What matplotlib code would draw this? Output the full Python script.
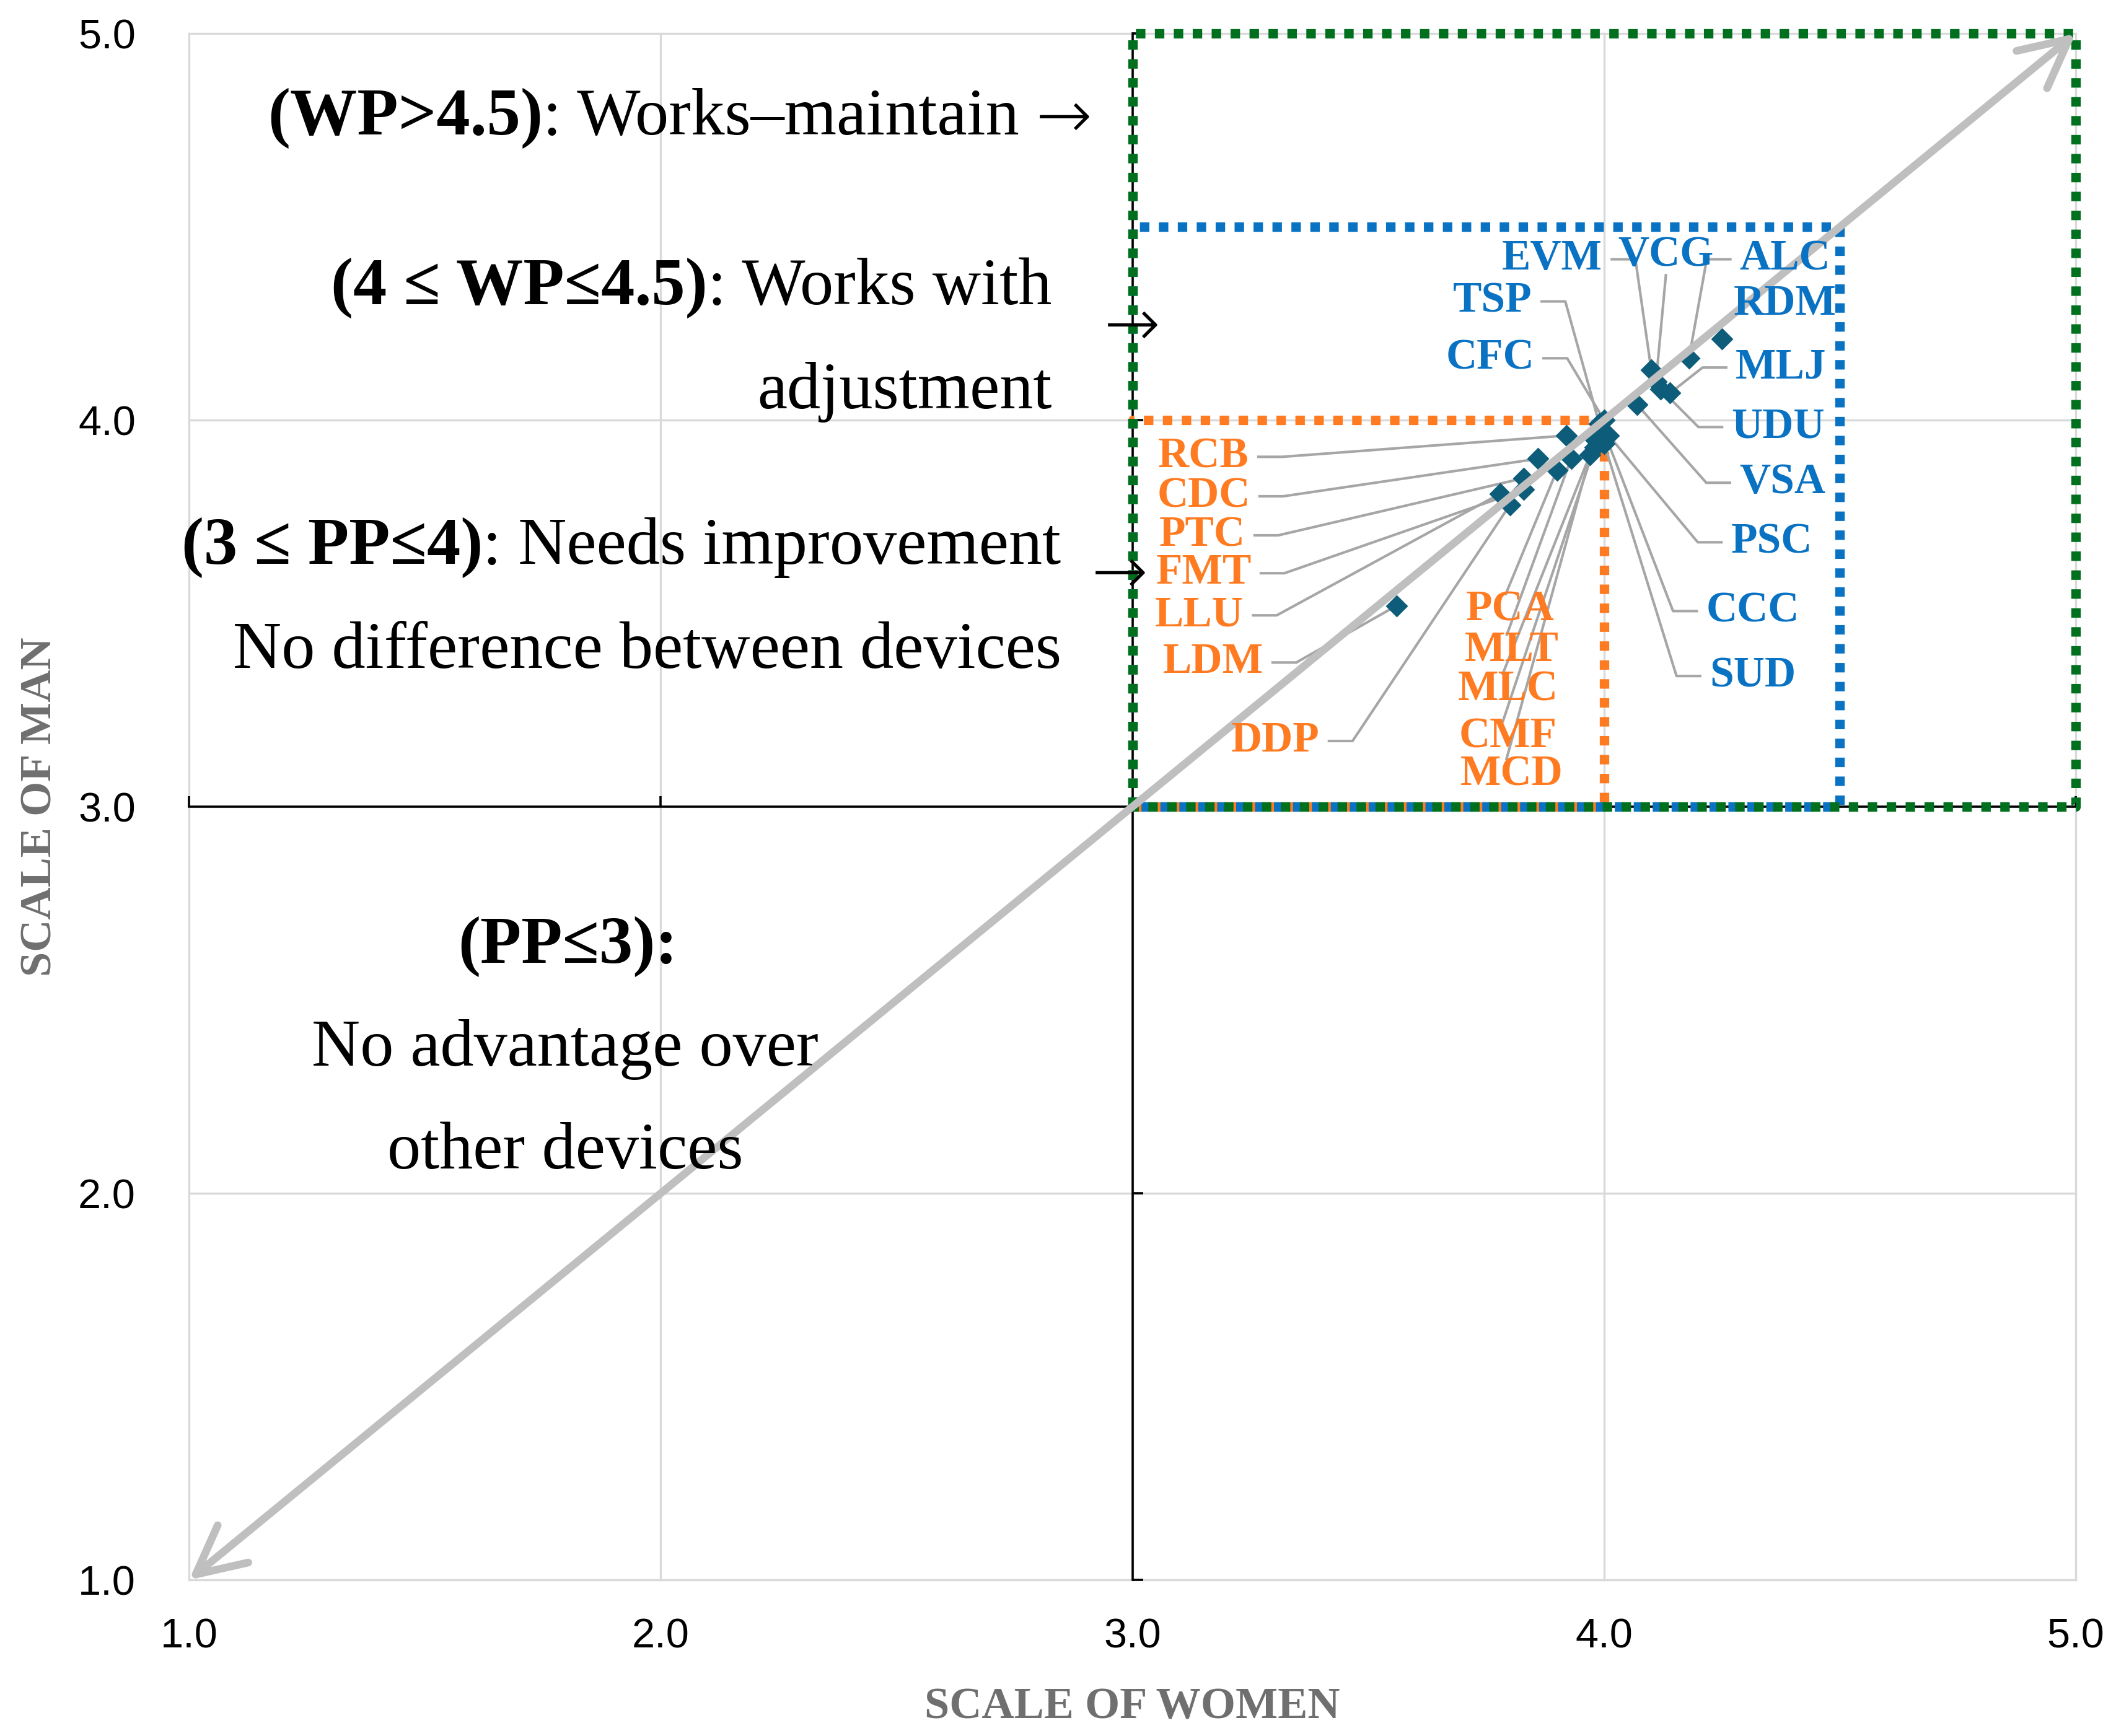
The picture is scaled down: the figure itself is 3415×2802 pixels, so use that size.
import matplotlib.pyplot as plt

plt.rcParams['font.family'] = ['Liberation Serif', 'DejaVu Serif']

# data: mean score given by women (x) and by men (y) for each item
blue_codes = ["EVM", "VCG", "ALC", "RDM", "TSP", "CFC", "MLJ", "UDU", "VSA", "PSC", "CCC", "SUD"]
blue_women = [4.10, 4.11, 4.18, 4.25, 3.99, 4.00, 4.14, 4.12, 4.07, 4.01, 4.00, 4.00]
blue_men = [4.13, 4.10, 4.16, 4.21, 3.99, 4.00, 4.07, 4.08, 4.04, 3.96, 3.97, 3.94]

orange_codes = ["RCB", "CDC", "PTC", "FMT", "LLU", "LDM", "DDP", "PCA", "MLT", "MLC", "CMF", "MCD"]
orange_women = [3.92, 3.86, 3.83, 3.83, 3.78, 3.56, 3.80, 3.90, 3.93, 3.97, 3.98, 3.98]
orange_men = [3.96, 3.90, 3.85, 3.82, 3.81, 3.52, 3.78, 3.87, 3.90, 3.91, 3.93, 3.95]

ticks = [1.0, 2.0, 3.0, 4.0, 5.0]
zone_low = 3.0
zone_tops = [4.0, 4.5, 5.0]   # PP<=4, WP<=4.5, WP>4.5

# label placement (centre of each code label) and where its leader leaves it
blue_label_xy = [(3.890, 4.416), (4.131, 4.426), (4.384, 4.416), (4.384, 4.300),
                 (3.764, 4.307), (3.758, 4.160), (4.375, 4.136), (4.369, 3.982),
                 (4.378, 3.838), (4.355, 3.684), (4.315, 3.506), (4.315, 3.338)]
blue_side = ['right', 'bottom', 'left', None, 'right', 'right',
             'left', 'left', 'left', 'left', 'left', 'left']
orange_label_xy = [(3.151, 3.905), (3.151, 3.803), (3.148, 3.702), (3.151, 3.604),
                   (3.142, 3.495), (3.171, 3.373), (3.303, 3.170), (3.801, 3.509),
                   (3.804, 3.404), (3.796, 3.303), (3.796, 3.180), (3.804, 3.082)]
orange_side = ['right'] * 7 + ['top'] * 5

BLUE = '#0A72C2'
ORANGE = '#FF7B22'
GREEN = '#00701F'
GRID = '#D9D9D9'
LEAD = '#A6A6A6'
DOT = '#0D5C7A'

fig = plt.figure(figsize=(17.08, 14.01), dpi=200)
ax = fig.add_axes([0.0893, 0.0899, 0.8914, 0.8908])
ax.set_xlim(1, 5)
ax.set_ylim(1, 5)
for s in ax.spines.values():
    s.set_visible(False)

ax.set_xticks(ticks)
ax.set_yticks(ticks)
ax.set_xticklabels([f"{t:.1f}" for t in ticks])
ax.set_yticklabels([f"{t:.1f}" for t in ticks])
ax.tick_params(length=0, labelsize=24, labelfontfamily='Liberation Sans')
ax.tick_params(axis='x', pad=22)
ax.tick_params(axis='y', pad=31)
ax.grid(True, color=GRID, lw=1.2, zorder=0)
ax.set_axisbelow(True)
for gl in ax.get_xgridlines() + ax.get_ygridlines():
    gl.set_clip_on(False)

# axes crossing at (3, 3)
ax.plot([ticks[0], ticks[-1]], [zone_low, zone_low], color='black', lw=1.3, zorder=1, clip_on=False)
ax.plot([zone_low, zone_low], [ticks[0], ticks[-1]], color='black', lw=1.3, zorder=1, clip_on=False)
ax.plot(ticks, [zone_low] * len(ticks), ls='none', marker=2, ms=6, mew=1.3, color='black', zorder=1, clip_on=False)
ax.plot([zone_low] * len(ticks), ticks, ls='none', marker=1, ms=6, mew=1.3, color='black', zorder=1, clip_on=False)

# dotted zone boxes
for top, col, z in zip(zone_tops, [ORANGE, BLUE, GREEN], [2, 2.1, 2.2]):
    ax.plot([zone_low, zone_low, top, top, zone_low], [zone_low, top, top, zone_low, zone_low],
            color=col, lw=5.5, ls=(0, (1, 1)), dash_capstyle='butt', zorder=z, clip_on=False)

# points
ax.plot(orange_women, orange_men, ls='none', marker='D', ms=9, color=DOT, mec='none', zorder=4)
ax.plot(blue_women, blue_men, ls='none', marker='D', ms=9, color=DOT, mec='none', zorder=4)

# diagonal
ax.annotate('', xy=(5, 5), xytext=(1, 1), annotation_clip=False,
            arrowprops=dict(arrowstyle='<->,head_length=1.4,head_width=0.7', mutation_scale=20,
                            color='#BFBFBF', lw=4.5, shrinkA=0, shrinkB=0), zorder=5)

# code labels
labels = []
for codes, xs, ys, lxy, sides, col in [
        (blue_codes, blue_women, blue_men, blue_label_xy, blue_side, BLUE),
        (orange_codes, orange_women, orange_men, orange_label_xy, orange_side, ORANGE)]:
    for c, px, py, (lx, ly), sd in zip(codes, xs, ys, lxy, sides):
        t = ax.text(lx, ly, c, color=col, fontsize=25, fontweight='bold', ha='center', va='center', zorder=6)
        labels.append((t, px, py, sd))

# zone descriptions
FS = 39
ARROW = dict(fontsize=FS, family='DejaVu Sans', fontweight='light')


def two_part(x, y, bold, rest, arrow=False):
    if arrow:
        a = ax.text(x, y, '\u2192', ha='right', va='center', zorder=6, **ARROW)
        t = ax.annotate(rest, xy=(0, 0.5), xycoords=a, fontsize=FS, ha='right', va='center', zorder=6)
    else:
        t = ax.text(x, y, rest, fontsize=FS, ha='right', va='center', zorder=6)
    ax.annotate(bold, xy=(0, 0), xycoords=t, fontsize=FS, fontweight='bold', ha='right', va='bottom', zorder=6)


two_part(2.915, 4.780, '(WP>4.5)', ': Works\u2013maintain ', arrow=True)
two_part(2.829, 4.342, '(4 \u2264 WP\u22644.5)', ': Works with')
ax.text(2.829, 4.073, 'adjustment', fontsize=FS, ha='right', va='center')
ax.text(3.0, 4.24, '\u2192', ha='center', va='center', **ARROW)
two_part(2.849, 3.670, '(3 \u2264 PP\u22644)', ': Needs improvement')
ax.text(2.973, 3.600, '\u2192', ha='center', va='center', **ARROW)
ax.text(2.849, 3.401, 'No difference between devices', fontsize=FS, ha='right', va='center')
ax.text(1.803, 2.638, '(PP\u22643):', fontsize=FS, fontweight='bold', ha='center', va='center', zorder=6)
ax.text(1.797, 2.372, 'No advantage over', fontsize=FS, ha='center', va='center', zorder=6)
ax.text(1.797, 2.106, 'other devices', fontsize=FS, ha='center', va='center', zorder=6)

ax.set_xlabel('SCALE OF WOMEN', fontsize=26, fontweight='bold', color='#6F6F6F')
ax.set_ylabel('SCALE OF MAN', fontsize=26, fontweight='bold', color='#6F6F6F')
ax.xaxis.set_label_coords(0.5, -0.0825)
ax.yaxis.set_label_coords(-0.0787, 0.5)
ax.xaxis.label.set_va('center')
ax.yaxis.label.set_va('center')

# leader lines from labels to points
fig.canvas.draw()
r = fig.canvas.get_renderer()
inv = ax.transData.inverted()
gap, dash = 0.02, 0.05
for t, px, py, sd in labels:
    if sd is None:
        continue
    bb = t.get_window_extent(r).transformed(inv)
    ym = (bb.y0 + bb.y1) / 2
    if sd == 'right':
        xs = [bb.x1 + gap, bb.x1 + gap + dash, px]
        ys = [ym, ym, py]
    elif sd == 'left':
        xs = [bb.x0 - gap, bb.x0 - gap - dash, px]
        ys = [ym, ym, py]
    elif sd == 'top':
        xs = [bb.x0 + 0.45 * (bb.x1 - bb.x0), px]
        ys = [bb.y1 - 0.01, py]
    else:
        xs = [(bb.x0 + bb.x1) / 2, px]
        ys = [bb.y0, py]
    ax.plot(xs, ys, color=LEAD, lw=1.5, zorder=3)

fig.savefig('out.png', dpi=200)
